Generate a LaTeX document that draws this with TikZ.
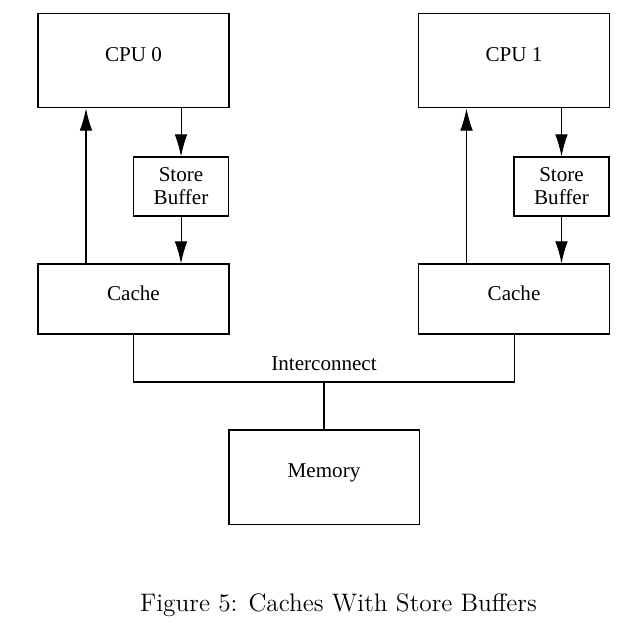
\documentclass[tikz,border=0pt]{standalone}
\usepackage{fontspec}
\setmainfont{Liberation Serif}
\newfontfamily\captionfont{Latin Modern Roman}
\usetikzlibrary{arrows.meta}
\begin{document}
\begin{tikzpicture}[
    unitbox/.style={shape=rectangle, draw, line width=0.5pt, inner sep=0, align=center},
    raised/.style={text depth=0.2cm},
    wire/.style={line width=0.5pt},
    tip/.style={line width=0.5pt, -{Latex[length=10.5pt, width=6pt]}}
  ]
          \useasboundingbox (0, 0) rectangle (10.733, 10.633);
          % Paths, nodes and wires:
          \node[unitbox, raised, minimum width=3.183cm, minimum height=1.567cm] (cpu0) at (2.225, 9.617){CPU 0};
          \node[unitbox, raised, minimum width=3.183cm, minimum height=1.567cm] (cpu1) at (8.567, 9.617){CPU 1};
          \node[unitbox, minimum width=1.583cm, minimum height=0.983cm] (sb0) at (3.017, 7.525){Store\\[-1pt]Buffer};
          \node[unitbox, minimum width=1.583cm, minimum height=0.983cm] (sb1) at (9.358, 7.525){Store\\[-1pt]Buffer};
          \node[unitbox, raised, minimum width=3.183cm, minimum height=1.167cm] (cache0) at (2.225, 5.65){Cache};
          \node[unitbox, raised, minimum width=3.183cm, minimum height=1.167cm] (cache1) at (8.567, 5.65){Cache};
          \node[unitbox, raised, minimum width=3.167cm, minimum height=1.567cm] (mem) at (5.4, 2.683){Memory};
          \coordinate (bus) at (5.4, 4.267);
          \node[anchor=center, inner sep=0] (buslabel) at (5.4, 4.567){Interconnect};
          \node[anchor=center, inner sep=0] (caption) at (5.642, 0.55){\captionfont\large Figure 5: Caches With Store Buffers};
          \draw[tip] ([xshift=-0.792cm]cache0.north) -- ([xshift=-0.792cm]cpu0.south);
          \draw[tip] (cpu0.south -| sb0.north) -- (sb0.north);
          \draw[tip] (sb0.south) -- (sb0.south |- cache0.north);
          \draw[tip] ([xshift=-0.792cm]cache1.north) -- ([xshift=-0.792cm]cpu1.south);
          \draw[tip] (cpu1.south -| sb1.north) -- (sb1.north);
          \draw[tip] (sb1.south) -- (sb1.south |- cache1.north);
          \draw[wire] (cache0.south) |- (bus) -| (cache1.south);
          \draw[wire] (bus) -- (mem.north);
        \end{tikzpicture}
\end{document}
